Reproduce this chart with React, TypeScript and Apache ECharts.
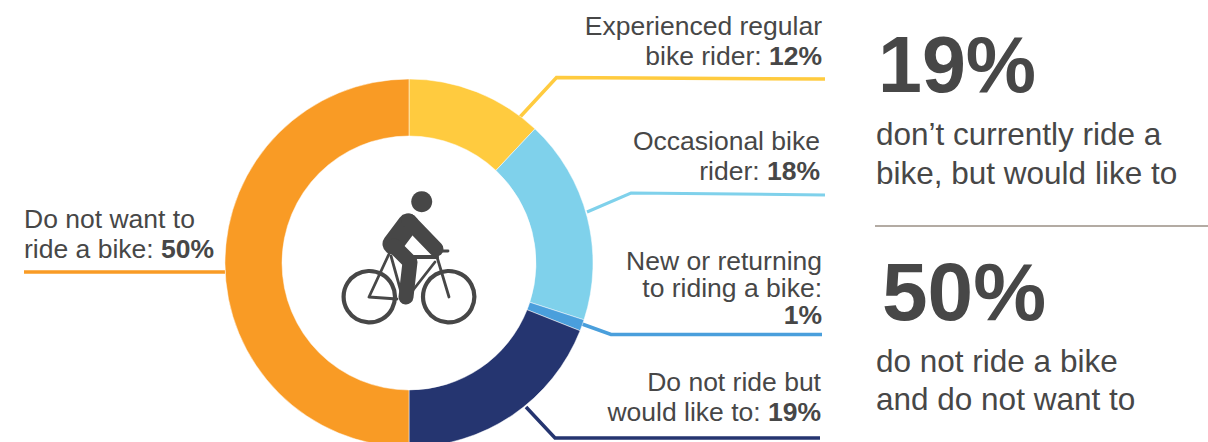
import React, { useEffect, useRef } from "react";
import * as echarts from "echarts";

const categories = ["Experienced regular bike rider", "Occasional bike rider", "New or returning to riding a bike", "Do not ride but would like to", "Do not want to ride a bike"];
const values = [12, 18, 1, 19, 50];
const colors = ["#FFCB3F", "#7FD1EB", "#4A9FDC", "#253570", "#F99B25"];
const FONT = "'Liberation Sans', Arial, sans-serif";
const INK = "#474747";

const labelLines: [string, string, number, number, "left" | "right"][] = [
  ["Experienced regular", "", 822, 26, "right"],
  ["bike rider: ", "12%", 822, 56, "right"],
  ["Occasional bike", "", 820, 141, "right"],
  ["rider: ", "18%", 820, 171, "right"],
  ["New or returning", "", 822, 261, "right"],
  ["to riding a bike:", "", 822, 288, "right"],
  ["", "1%", 822, 315, "right"],
  ["Do not ride but", "", 821, 382, "right"],
  ["would like to: ", "19%", 821, 412, "right"],
  ["Do not want to", "", 24, 219, "left"],
  ["ride a bike: ", "50%", 24, 249, "left"],
];

const leaders: [number, number[][], number][] = [
  [0, [[520, 117], [556.5, 77.5], [825, 79]], 3.5],
  [1, [[587, 212], [631, 193], [825, 195]], 3],
  [2, [[582, 324], [611, 334.5], [822, 334.5]], 3.5],
  [3, [[526, 407], [555, 438], [820, 438]], 3.5],
  [4, [[24, 272], [225, 272]], 3.5],
];

const bigStats: [string, number, number, number][] = [["19%", 878, 64, 79], ["50%", 882, 291, 82]];
const statTexts: [string, number][] = [
  ["don’t currently ride a", 134],
  ["bike, but would like to", 173],
  ["do not ride a bike", 361],
  ["and do not want to", 399],
];

function bikeIcon(): any[] {
  const line = (points: number[][], lineWidth: number) => ({
    type: "polyline",
    shape: { points },
    style: { stroke: INK, fill: "none", lineWidth, lineCap: "round", lineJoin: "round" },
  });
  const wheel = (cx: number) => ({
    type: "circle",
    shape: { cx, cy: 296.7, r: 25.7 },
    style: { stroke: INK, fill: "none", lineWidth: 4.2 },
  });
  return [
    { type: "circle", shape: { cx: 421.7, cy: 201.7, r: 10.5 }, style: { fill: INK } },
    wheel(369.3),
    wheel(448.7),
    line([[389, 254], [369, 297], [397, 299]], 2.8),
    line([[391, 256], [403, 299]], 2.8),
    line([[405, 257], [437, 257]], 4),
    line([[437, 257], [449, 297]], 2.8),
    line([[435, 262], [410, 294]], 2.8),
    line([[437, 251], [448, 251]], 2.8),
    line([[408, 224], [393, 244]], 21),
    line([[409, 221], [436, 249]], 15),
    line([[394, 246], [410, 262], [406, 297]], 15),
  ];
}

export default function App() {
  const ref = useRef<HTMLDivElement>(null);
  useEffect(() => {
    document.body.style.margin = "0";
    const chart = echarts.init(ref.current!, undefined, { renderer: "svg" });
    const graphics: any[] = [];
    leaders.forEach(([idx, points, lineWidth]) =>
      graphics.push({
        type: "polyline",
        z: 1,
        shape: { points },
        style: { stroke: colors[idx], fill: "none", lineWidth },
      })
    );
    labelLines.forEach(([plain, bold, x, y, align]) =>
      graphics.push({
        type: "text",
        x,
        y,
        style: {
          text: (plain ? `{n|${plain}}` : "") + (bold ? `{b|${bold}}` : ""),
          align,
          verticalAlign: "middle",
          rich: {
            n: { fontFamily: FONT, fontSize: 26.5, lineHeight: 24, fill: INK, color: INK },
            b: { fontFamily: FONT, fontSize: 26.5, lineHeight: 24, fontWeight: "bold", fill: INK, color: INK },
          },
        },
      })
    );
    bigStats.forEach(([text, x, y, fontSize]) =>
      graphics.push({
        type: "text",
        x,
        y,
        style: { text, fontFamily: FONT, fontSize, fontWeight: "bold", fill: INK, align: "left", verticalAlign: "middle" },
      })
    );
    statTexts.forEach(([text, y]) =>
      graphics.push({
        type: "text",
        x: 876,
        y,
        style: { text, fontFamily: FONT, fontSize: 31.5, fill: INK, align: "left", verticalAlign: "middle" },
      })
    );
    graphics.push({
      type: "line",
      shape: { x1: 875, y1: 226, x2: 1208, y2: 226 },
      style: { stroke: "#B3ABA3", lineWidth: 2 },
    });
    bikeIcon().forEach((g) => graphics.push({ ...g, z: 10 }));

    chart.setOption({
      animation: false,
      backgroundColor: "#fff",
      graphic: graphics,
      series: [
        {
          type: "pie",
          center: [409, 263],
          radius: [127, 184],
          startAngle: 90,
          clockwise: true,
          silent: true,
          z: 5,
          label: { show: false },
          labelLine: { show: false },
          itemStyle: { borderColor: "#fff", borderWidth: 0.5 },
          data: categories.map((name, i) => ({ name, value: values[i], itemStyle: { color: colors[i] } })),
        },
      ],
    });
    return () => chart.dispose();
  }, []);
  return <div ref={ref} style={{ width: 1208, height: 442 }} />;
}
